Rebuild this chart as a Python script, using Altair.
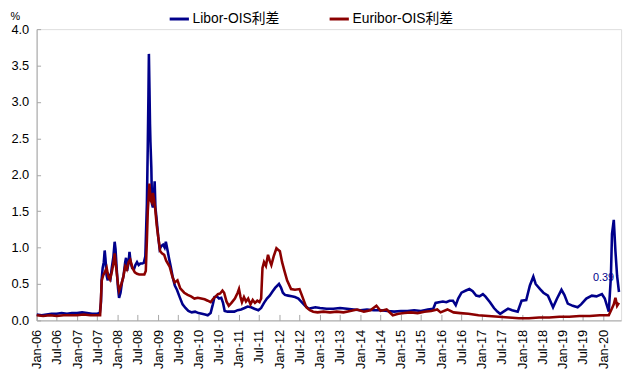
import altair as alt
import pandas as pd

FONT = "Liberation Sans, Arial, Noto Sans CJK SC, sans-serif"

series_names = ["Libor-OIS利差", "Euribor-OIS利差"]
series_colors = ["#00008B", "#8B0000"]

libor_dates = ["2006-01-02","2006-02-15","2006-04-01","2006-05-15","2006-07-01","2006-08-15","2006-10-01","2006-11-15",
"2007-01-01","2007-02-15","2007-04-01","2007-05-15","2007-07-01","2007-07-25","2007-08-05","2007-08-10","2007-08-20",
"2007-08-30","2007-09-07","2007-09-14","2007-09-24","2007-10-05","2007-10-15","2007-10-30","2007-11-10","2007-11-25",
"2007-12-06","2007-12-14","2007-12-24","2008-01-05","2008-01-15","2008-01-28","2008-02-10","2008-02-25","2008-03-10",
"2008-03-18","2008-03-28","2008-04-10","2008-04-18","2008-04-28","2008-05-12","2008-05-28","2008-06-10","2008-06-25",
"2008-07-10","2008-07-25","2008-08-10","2008-08-25","2008-09-08","2008-09-16","2008-09-22","2008-09-30","2008-10-06",
"2008-10-10","2008-10-15","2008-10-20","2008-10-24","2008-11-01","2008-11-07","2008-11-15","2008-11-24","2008-12-01",
"2008-12-08","2008-12-18","2009-01-02","2009-01-15","2009-01-30","2009-02-15","2009-03-01","2009-03-12","2009-03-25",
"2009-04-10","2009-04-25","2009-05-15","2009-06-01","2009-06-20","2009-07-15","2009-08-10","2009-09-05","2009-10-01",
"2009-11-01","2009-12-01","2010-01-01","2010-02-01","2010-03-01","2010-03-25","2010-04-20","2010-05-10","2010-05-25",
"2010-06-15","2010-07-05","2010-07-25","2010-08-10","2010-08-25","2010-09-20","2010-10-20","2010-11-20","2010-12-20",
"2011-01-20","2011-02-20","2011-03-20","2011-04-20","2011-05-20","2011-06-25","2011-07-20","2011-08-15","2011-09-10",
"2011-10-05","2011-11-01","2011-11-25","2011-12-28","2012-01-15","2012-02-01","2012-02-20","2012-03-20","2012-04-20",
"2012-05-20","2012-06-20","2012-07-20","2012-08-20","2012-09-20","2012-10-20","2012-11-20","2013-01-01","2013-03-01",
"2013-05-01","2013-07-01","2013-09-01","2013-11-01","2014-01-01","2014-03-01","2014-05-01","2014-07-01","2014-09-01",
"2014-11-01","2015-01-01","2015-03-01","2015-05-01","2015-07-01","2015-09-01","2015-10-20","2015-11-10","2015-12-10",
"2016-01-15","2016-02-15","2016-03-15","2016-04-15","2016-05-10","2016-06-01","2016-07-01","2016-08-10","2016-09-10",
"2016-10-10","2016-11-10","2016-12-10","2017-01-10","2017-02-01","2017-03-15","2017-04-20","2017-05-20","2017-06-15",
"2017-07-15","2017-08-25","2017-10-01","2017-11-20","2017-12-25","2018-02-05","2018-03-10","2018-04-10","2018-05-01",
"2018-06-10","2018-07-10","2018-08-20","2018-10-05","2018-11-10","2018-12-20","2019-01-15","2019-02-15","2019-04-01",
"2019-05-15","2019-06-15","2019-08-01","2019-09-20","2019-11-01","2019-12-20","2020-01-15","2020-02-20","2020-03-10",
"2020-03-20","2020-04-05","2020-04-20","2020-05-05","2020-05-22"]
libor_values = [0.08,0.07,0.08,0.09,0.09,0.10,0.09,0.10,
0.10,0.11,0.10,0.09,0.09,0.10,0.25,0.55,0.72,
0.80,0.96,0.85,0.62,0.55,0.62,0.58,0.72,0.88,
1.08,0.98,0.72,0.45,0.31,0.38,0.52,0.62,0.80,
0.86,0.68,0.80,0.94,0.80,0.72,0.70,0.76,0.80,
0.76,0.78,0.78,0.79,0.88,1.30,1.60,2.40,3.10,
3.66,3.20,2.70,2.45,2.10,1.60,1.55,1.70,1.91,
1.55,1.40,1.15,0.98,1.02,1.04,1.00,1.08,0.98,
0.85,0.74,0.58,0.48,0.42,0.32,0.22,0.17,0.13,
0.11,0.12,0.10,0.09,0.08,0.07,0.10,0.22,0.32,
0.33,0.30,0.31,0.24,0.13,0.12,0.12,0.12,0.14,
0.15,0.17,0.19,0.18,0.16,0.14,0.17,0.24,0.30,
0.34,0.40,0.45,0.50,0.45,0.38,0.35,0.34,0.33,
0.32,0.30,0.25,0.20,0.16,0.17,0.18,0.17,0.16,
0.16,0.17,0.16,0.15,0.14,0.15,0.14,0.14,0.13,
0.12,0.13,0.13,0.14,0.13,0.15,0.16,0.24,0.25,
0.26,0.25,0.27,0.27,0.21,0.30,0.38,0.41,0.43,
0.40,0.34,0.33,0.36,0.33,0.25,0.17,0.12,0.09,
0.12,0.16,0.14,0.12,0.27,0.28,0.48,0.60,0.50,
0.43,0.38,0.34,0.18,0.30,0.42,0.35,0.23,0.20,
0.18,0.22,0.30,0.34,0.33,0.36,0.30,0.12,0.60,
1.19,1.38,0.95,0.61,0.39]

euribor_dates = ["2006-01-02","2006-03-01","2006-05-01","2006-07-01","2006-09-01","2006-11-01","2007-01-01","2007-03-01",
"2007-05-01","2007-07-01","2007-07-28","2007-08-06","2007-08-12","2007-08-25","2007-09-08","2007-09-25","2007-10-10",
"2007-10-25","2007-11-10","2007-11-25","2007-12-06","2007-12-18","2008-01-05","2008-01-15","2008-02-01","2008-02-20",
"2008-03-10","2008-03-25","2008-04-10","2008-04-25","2008-05-15","2008-06-05","2008-06-25","2008-07-15","2008-08-10",
"2008-08-30","2008-09-12","2008-09-22","2008-09-30","2008-10-08","2008-10-15","2008-10-25","2008-11-05","2008-11-15",
"2008-11-25","2008-12-05","2008-12-20","2009-01-02","2009-01-20","2009-02-05","2009-02-25","2009-03-15","2009-04-15",
"2009-05-10","2009-05-30","2009-06-25","2009-07-20","2009-08-25","2009-09-25","2009-10-25","2009-11-25","2009-12-25",
"2010-01-25","2010-02-25","2010-03-25","2010-04-20","2010-05-15","2010-06-05","2010-06-25","2010-07-15","2010-08-05",
"2010-08-20","2010-09-10","2010-10-01","2010-10-25","2010-11-25","2010-12-20","2011-01-01","2011-01-15","2011-01-28",
"2011-02-15","2011-03-05","2011-03-25","2011-04-15","2011-05-05","2011-05-25","2011-06-15","2011-07-05","2011-07-20",
"2011-08-01","2011-08-15","2011-09-01","2011-09-20","2011-10-05","2011-10-20","2011-11-10","2011-12-05","2011-12-20",
"2012-01-05","2012-01-25","2012-02-15","2012-03-10","2012-04-15","2012-05-20","2012-06-30","2012-07-25","2012-08-30",
"2012-10-01","2012-11-01","2012-12-10","2013-02-01","2013-04-01","2013-06-01","2013-08-01","2013-10-01","2013-12-01",
"2014-02-01","2014-04-01","2014-05-25","2014-07-01","2014-08-25","2014-10-20","2014-12-10","2015-02-01","2015-04-01",
"2015-06-01","2015-08-01","2015-10-01","2015-11-25","2015-12-25","2016-02-25","2016-04-20","2016-06-20","2016-09-01",
"2016-12-01","2017-03-01","2017-06-01","2017-09-01","2017-12-01","2018-03-01","2018-06-01","2018-09-01","2018-12-01",
"2019-03-01","2019-06-01","2019-09-01","2019-12-01","2020-02-20","2020-03-15","2020-04-05","2020-04-20","2020-05-05",
"2020-05-22"]
euribor_values = [0.07,0.06,0.07,0.06,0.07,0.07,0.07,0.08,
0.07,0.07,0.07,0.35,0.55,0.62,0.66,0.72,0.60,
0.56,0.66,0.78,0.92,0.75,0.50,0.41,0.48,0.58,
0.74,0.70,0.80,0.83,0.72,0.66,0.64,0.63,0.63,
0.63,0.68,1.10,1.50,1.70,1.88,1.65,1.62,1.75,
1.66,1.55,1.30,1.15,0.95,0.92,0.90,0.82,0.74,
0.60,0.52,0.55,0.44,0.38,0.35,0.33,0.30,0.31,
0.30,0.29,0.27,0.25,0.30,0.33,0.36,0.37,0.41,
0.38,0.26,0.20,0.24,0.30,0.38,0.43,0.32,0.25,
0.32,0.26,0.30,0.22,0.28,0.24,0.27,0.25,0.30,
0.72,0.80,0.75,0.90,0.82,0.76,0.88,0.99,0.97,
0.95,0.80,0.68,0.55,0.43,0.42,0.43,0.33,0.18,
0.14,0.12,0.11,0.12,0.11,0.12,0.11,0.13,0.15,
0.12,0.14,0.20,0.13,0.15,0.07,0.09,0.10,0.11,
0.10,0.12,0.13,0.15,0.11,0.15,0.11,0.10,0.09,
0.07,0.06,0.05,0.04,0.03,0.03,0.04,0.04,0.05,
0.05,0.06,0.06,0.07,0.07,0.15,0.22,0.31,0.20,
0.24]

y_ticks = [0.0, 0.5, 1.0, 1.5, 2.0, 2.5, 3.0, 3.5, 4.0]
x_tick_years = list(range(2006, 2021))

df = pd.concat([
    pd.DataFrame({"date": libor_dates, "value": libor_values, "series": series_names[0]}),
    pd.DataFrame({"date": euribor_dates, "value": euribor_values, "series": series_names[1]}),
])
ann = pd.DataFrame({"date": [libor_dates[-1]], "value": [libor_values[-1]],
                    "label": [f"{libor_values[-1]:.2f}"]})

x_values = []
for y in x_tick_years:
    x_values.append(alt.DateTime(year=y, month=1, date=1))
    if y < 2020:
        x_values.append(alt.DateTime(year=y, month=7, date=1))

W, H = 592, 295
TOP = 19
AXIS_GRAY = "#A6A6A6"

x_scale = alt.Scale(domain=[alt.DateTime(year=2006, month=1, date=1),
                            alt.DateTime(year=2020, month=6, date=10)])
y_scale = alt.Scale(domain=[0, 4], nice=False)

color = alt.Color("series:N",
    scale=alt.Scale(domain=series_names, range=series_colors),
    legend=alt.Legend(orient="none", legendX=133, legendY=-22, direction="horizontal",
                      title=None, symbolType="stroke", symbolSize=380, symbolStrokeWidth=3,
                      labelFontSize=14, labelFont=FONT, labelColor="#000", columnPadding=44,
                      labelOffset=2, padding=0))

base = alt.Chart(df)

blue = base.transform_filter(alt.datum.series == series_names[0]).mark_line(strokeWidth=2.6).encode(
    x=alt.X("date:T", scale=x_scale,
            axis=alt.Axis(orient="bottom", values=x_values, format="%b-%y", labelAngle=-90,
                          labelFontSize=13, labelFont=FONT, labelColor="#000", ticks=False,
                          tickSize=0, labelPadding=9, domainColor=AXIS_GRAY, grid=False,
                          title=None, labelOverlap=False)),
    y=alt.Y("value:Q", scale=y_scale,
            axis=alt.Axis(orient="left", values=y_ticks, format=".1f", labelFontSize=13,
                          labelFont=FONT, labelColor="#000", ticks=False, tickSize=0,
                          labelPadding=8, domainColor=AXIS_GRAY, grid=False, title="%",
                          titleAngle=0, titleX=-22, titleY=-TOP, titleAlign="center",
                          titleBaseline="top", titleFontSize=11, titleFontWeight="normal",
                          titleFont=FONT, titleColor="#000")),
    color=color,
)

red = base.transform_filter(alt.datum.series == series_names[1]).mark_line(strokeWidth=2.6).encode(
    x=alt.X("date:T", scale=x_scale,
            axis=alt.Axis(orient="top", offset=-H, values=x_values, labels=False, domain=False,
                          ticks=True, tickSize=6, tickColor=AXIS_GRAY, grid=False, title=None)),
    y=alt.Y("value:Q", scale=y_scale,
            axis=alt.Axis(orient="right", offset=-W, values=y_ticks, labels=False, domain=False,
                          ticks=True, tickSize=4, tickColor=AXIS_GRAY, grid=False, title=None)),
    color=color,
)

text = alt.Chart(ann).mark_text(align="right", baseline="middle", dx=-5, dy=-14,
                                fontSize=11, font=FONT, color=series_colors[0]).encode(
    x=alt.X("date:T", scale=x_scale, axis=None),
    y=alt.Y("value:Q", scale=y_scale, axis=None),
    text="label:N",
)

chart = alt.layer(blue, red, text).resolve_axis(x="independent", y="independent").properties(
    width=W, height=H,
    autosize=alt.AutoSizeParams(type="none"),
    padding={"left": 29, "top": TOP, "right": 7, "bottom": 60},
).configure_view(stroke=None).configure(background="white")

chart.save("out.html", embed_options={"renderer": "svg", "actions": False})
